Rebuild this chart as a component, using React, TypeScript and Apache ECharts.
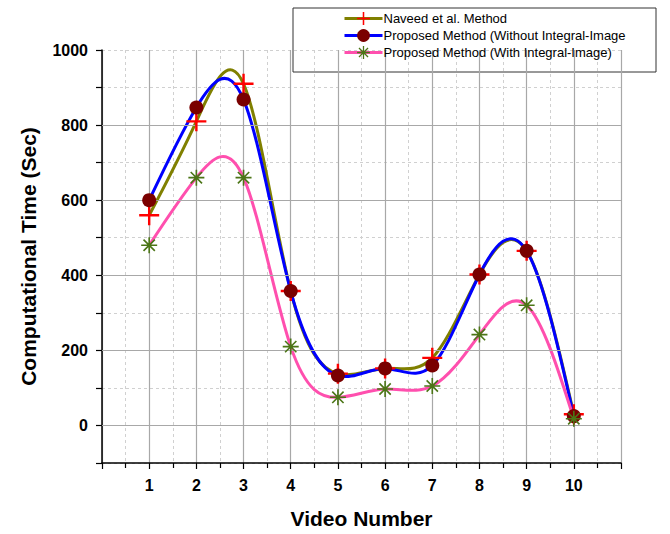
import React, { useEffect, useRef } from "react";
import * as echarts from "echarts";

const videos = [1, 2, 3, 4, 5, 6, 7, 8, 9, 10];
const naveed = [560, 810, 910, 358, 138, 152, 180, 402, 465, 30];
const withoutIntegral = [600, 847, 868, 358, 133, 152, 160, 402, 465, 25];
const withIntegral = [480, 660, 660, 210, 75, 97, 105, 242, 320, 18];
const majorY = [0, 200, 400, 600, 800];

const seriesNames = [
  "Naveed et al. Method",
  "Proposed Method (Without Integral-Image",
  "Proposed Method (With Integral-Image)",
];
const lineColors = ["#808000", "#0000ff", "#ff4fae"];
const markerColors = ["#ff0000", "#7a0000", "#4b7516"];

const crossPath = "path://M8.8,0H11.2V20H8.8Z M0,8.8H20V11.2H0Z";
const starPath =
  "path://M9,0H11V20H9Z M0,9H20V11H0Z M3.64,2.22L17.78,16.36L16.36,17.78L2.22,3.64Z M17.78,3.64L3.64,17.78L2.22,16.36L16.36,2.22Z";
const symbols = [crossPath, "circle", starPath];
const symbolSizes = [20, 14, 16];

const FONT = "Arial, 'Liberation Sans', sans-serif";

// natural cubic spline slopes at knots (rendering helper, data untouched)
function splineSlopes(xs: number[], ys: number[]) {
  const n = xs.length;
  const h: number[] = [];
  for (let i = 0; i < n - 1; i++) h.push(xs[i + 1] - xs[i]);
  const a: number[] = new Array(n).fill(0);
  const b: number[] = new Array(n).fill(1);
  const c: number[] = new Array(n).fill(0);
  const d: number[] = new Array(n).fill(0);
  for (let i = 1; i < n - 1; i++) {
    a[i] = h[i - 1];
    b[i] = 2 * (h[i - 1] + h[i]);
    c[i] = h[i];
    d[i] = 6 * ((ys[i + 1] - ys[i]) / h[i] - (ys[i] - ys[i - 1]) / h[i - 1]);
  }
  const cp: number[] = new Array(n).fill(0);
  const dp: number[] = new Array(n).fill(0);
  cp[0] = c[0] / b[0];
  dp[0] = d[0] / b[0];
  for (let i = 1; i < n; i++) {
    const m = b[i] - a[i] * cp[i - 1];
    cp[i] = c[i] / m;
    dp[i] = (d[i] - a[i] * dp[i - 1]) / m;
  }
  const M: number[] = new Array(n).fill(0);
  M[n - 1] = dp[n - 1];
  for (let i = n - 2; i >= 0; i--) M[i] = dp[i] - cp[i] * M[i + 1];
  const left: number[] = [];
  const right: number[] = [];
  for (let i = 0; i < n - 1; i++) {
    const s = (ys[i + 1] - ys[i]) / h[i];
    left.push(s - (h[i] * (2 * M[i] + M[i + 1])) / 6);
    right.push(s + (h[i] * (M[i] + 2 * M[i + 1])) / 6);
  }
  return { left, right };
}

export default function App() {
  const ref = useRef<HTMLDivElement>(null);
  useEffect(() => {
    document.body.style.margin = "0";
    const chart = echarts.init(ref.current!, undefined, { renderer: "svg" });
    const all = [naveed, withoutIntegral, withIntegral];
    const pairs = (vals: number[]) => videos.map((v, i) => [v, vals[i]]);

    const curveSeries = all.map((vals, k) => {
      const sl = splineSlopes(videos, vals);
      return {
        type: "custom",
        name: "curve-" + k,
        data: pairs(vals),
        silent: true,
        z: 2 + k * 0.1,
        renderItem: (params: any, api: any) => {
          const i = params.dataIndex;
          if (i >= videos.length - 1) return null;
          const x0 = videos[i];
          const x1 = videos[i + 1];
          const hh = x1 - x0;
          const p0 = api.coord([x0, vals[i]]);
          const p1 = api.coord([x1, vals[i + 1]]);
          const c0 = api.coord([x0 + hh / 3, vals[i] + (hh / 3) * sl.left[i]]);
          const c1 = api.coord([x1 - hh / 3, vals[i + 1] - (hh / 3) * sl.right[i]]);
          return {
            type: "bezierCurve",
            shape: {
              x1: p0[0], y1: p0[1], x2: p1[0], y2: p1[1],
              cpx1: c0[0], cpy1: c0[1], cpx2: c1[0], cpy2: c1[1],
            },
            style: { stroke: lineColors[k], lineWidth: 3, fill: null },
          };
        },
      };
    });

    const markerSeries = all.map((vals, k) => ({
      type: "line",
      name: seriesNames[k],
      data: pairs(vals),
      symbol: symbols[k],
      symbolSize: symbolSizes[k],
      showSymbol: true,
      z: 5 + k,
      lineStyle: { color: lineColors[k], width: 3, opacity: 0 },
      itemStyle: { color: markerColors[k] },
    }));

    chart.setOption({
      animation: false,
      backgroundColor: "#ffffff",
      grid: { left: 102, top: 50, right: 49, bottom: 66 },
      graphic: [
        {
          type: "rect",
          shape: { x: 293, y: 8, width: 363, height: 64 },
          style: { fill: "none", stroke: "#333", lineWidth: 1 },
          z: 0,
        },
      ],
      legend: {
        orient: "vertical",
        left: 343,
        top: 12,
        itemWidth: 38,
        itemHeight: 16,
        itemGap: 4,
        padding: 0,
        textStyle: { fontFamily: FONT, fontSize: 13, color: "#000", padding: [0, 0, 0, -4] },
        data: seriesNames.map((n, k) => ({
          name: n,
          lineStyle: { color: lineColors[k], width: 3, opacity: 1 },
          itemStyle: { color: markerColors[k] },
        })),
      },
      xAxis: {
        type: "value",
        min: 0,
        max: 11,
        interval: 1,
        name: "Video Number",
        nameLocation: "middle",
        nameGap: 45,
        nameTextStyle: { fontFamily: FONT, fontSize: 21, fontWeight: "bold", color: "#000" },
        axisLine: { show: true, onZero: false, lineStyle: { color: "#000", width: 1.5 } },
        axisTick: { show: true, length: 6, lineStyle: { color: "#000", width: 1.2 } },
        minorTick: { show: true, splitNumber: 2, length: 5, lineStyle: { color: "#000", width: 1.2 } },
        axisLabel: {
          margin: 14,
          fontFamily: FONT,
          fontSize: 16,
          fontWeight: "bold",
          color: "#000",
          formatter: (v: number) => (v >= 1 && v <= 10 ? String(v) : ""),
        },
        splitLine: { show: true, lineStyle: { color: "#a8a8a8", width: 1.2 } },
        minorSplitLine: { show: true, lineStyle: { color: "#d0d0d0", type: [3, 3], width: 1 } },
      },
      yAxis: {
        type: "value",
        min: -100,
        max: 1000,
        interval: 100,
        name: "Computational Time (Sec)",
        nameLocation: "middle",
        nameGap: 63,
        nameTextStyle: { fontFamily: FONT, fontSize: 21, fontWeight: "bold", color: "#000" },
        axisLine: { show: true, lineStyle: { color: "#000", width: 1.5 } },
        axisTick: { show: true, length: 6, lineStyle: { color: "#000", width: 1.2 } },
        axisLabel: {
          margin: 14,
          fontFamily: FONT,
          fontSize: 16,
          fontWeight: "bold",
          color: "#000",
          formatter: (v: number) => (v >= 0 && v % 200 === 0 ? String(v) : ""),
        },
        splitLine: { show: true, lineStyle: { color: "#d0d0d0", type: [3, 3], width: 1 } },
      },
      series: [
        {
          type: "line",
          name: "grid-major",
          data: [],
          silent: true,
          z: 1,
          markLine: {
            silent: true,
            symbol: "none",
            label: { show: false },
            lineStyle: { color: "#a8a8a8", type: "solid", width: 1.2 },
            data: majorY.map((v) => ({ yAxis: v })),
          },
        },
        ...curveSeries,
        ...markerSeries,
      ],
    });
    return () => chart.dispose();
  }, []);
  return <div ref={ref} style={{ width: 670, height: 534 }} />;
}
